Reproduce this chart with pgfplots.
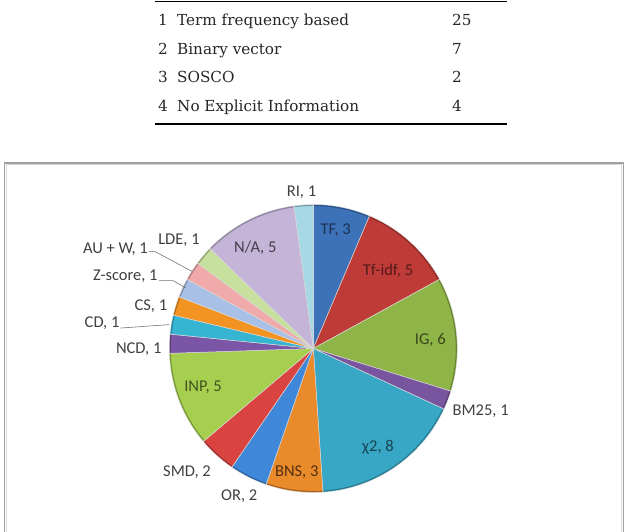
\documentclass[border=0pt]{standalone}
\usepackage{pgfplots}
\pgfplotsset{compat=1.18}
\usepackage{fontspec}
\setmainfont{DejaVu Serif}
\newfontfamily\carlito{Carlito}

\definecolor{cTF}{HTML}{3D72B8}
\definecolor{cTFIDF}{HTML}{BE3B38}
\definecolor{cIG}{HTML}{8FB448}
\definecolor{cBM}{HTML}{7A559F}
\definecolor{cCHI}{HTML}{38A7C5}
\definecolor{cBNS}{HTML}{E98A2B}
\definecolor{cOR}{HTML}{3E87D9}
\definecolor{cSMD}{HTML}{D94440}
\definecolor{cINP}{HTML}{A6CF4F}
\definecolor{cNCD}{HTML}{7B56A7}
\definecolor{cCD}{HTML}{36B5D3}
\definecolor{cCS}{HTML}{F39422}
\definecolor{cZ}{HTML}{A9C0E6}
\definecolor{cAUW}{HTML}{F0AAAA}
\definecolor{cLDE}{HTML}{C8E09D}
\definecolor{cNA}{HTML}{C4B5D8}
\definecolor{cRI}{HTML}{A6D8E6}
\definecolor{lbl}{HTML}{404040}
\definecolor{framec}{HTML}{A0A0A0}

\tikzset{lab/.style={font=\carlito\fontsize{16.5}{18}\selectfont, inner sep=0pt}}

% one wedge: start count, end count (cumulative counts out of 47), colour
\newcommand{\pieslice}[3]{%
  \addplot[fill=#3, draw=white!70!gray, line width=0.5pt, domain=#1:#2, samples=40, variable=\t]
    ({cos(90-360*\t/47)}, {sin(90-360*\t/47)}) -- (axis cs:0,0) -- cycle;
  \addplot[draw=#3!72!black, line width=1.1pt, domain=#1+0.04:#2-0.04, samples=40, variable=\t]
    ({0.993*cos(90-360*\t/47)}, {0.993*sin(90-360*\t/47)});
}

\begin{document}
\begin{tikzpicture}[x=1pt,y=1pt]
\useasboundingbox (0,0) rectangle (630,-532);

% ---- table ----
\draw[line width=0.8pt] (155,-1.7) -- (507,-1.7);
\draw[line width=1.3pt] (155,-124) -- (507,-124);
\begin{scope}[every node/.style={inner sep=0pt, font=\fontsize{15.2}{18}\selectfont, text=black!85}]
\node[anchor=base west] at (158,-26) {1};
\node[anchor=base west] at (177,-26) {Term frequency based};
\node[anchor=base west] at (452,-26) {25};
\node[anchor=base west] at (158,-54.5) {2};
\node[anchor=base west] at (177,-54.5) {Binary vector};
\node[anchor=base west] at (452,-54.5) {7};
\node[anchor=base west] at (158,-83) {3};
\node[anchor=base west] at (177,-83) {SOSCO};
\node[anchor=base west] at (452,-83) {2};
\node[anchor=base west] at (158,-111.5) {4};
\node[anchor=base west] at (177,-111.5) {No Explicit Information};
\node[anchor=base west] at (452,-111.5) {4};
\end{scope}

% ---- chart frame ----
\draw[framec, line width=1.3pt] (4.5,-545) -- (4.5,-163) -- (623.5,-163) -- (623.5,-545);
\draw[black!15, line width=0.8pt] (6.2,-545) -- (6.2,-164.7) -- (621.8,-164.7) -- (621.8,-545);

% ---- pie ----
\begin{axis}[
  at={(313.3pt,-348.5pt)}, anchor=center,
  width=288pt, height=288pt, scale only axis,
  xmin=-1, xmax=1, ymin=-1, ymax=1,
  hide axis, clip=false,
]
\pieslice{0}{3}{cTF}     % TF, 3
\pieslice{3}{8}{cTFIDF}  % Tf-idf, 5
\pieslice{8}{14}{cIG}    % IG, 6
\pieslice{14}{15}{cBM}   % BM25, 1
\pieslice{15}{23}{cCHI}  % chi2, 8
\pieslice{23}{26}{cBNS}  % BNS, 3
\pieslice{26}{28}{cOR}   % OR, 2
\pieslice{28}{30}{cSMD}  % SMD, 2
\pieslice{30}{35}{cINP}  % INP, 5
\pieslice{35}{36}{cNCD}  % NCD, 1
\pieslice{36}{37}{cCD}   % CD, 1
\pieslice{37}{38}{cCS}   % CS, 1
\pieslice{38}{39}{cZ}    % Z-score, 1
\pieslice{39}{40}{cAUW}  % AU + W, 1
\pieslice{40}{41}{cLDE}  % LDE, 1
\pieslice{41}{46}{cNA}   % N/A, 5
\pieslice{46}{47}{cRI}   % RI, 1

% leader lines
\addplot[black!55, line width=0.6pt] coordinates {(-1.338,0.142) (-1.0,0.166)};
\addplot[black!55, line width=0.6pt] coordinates {(-1.073,0.471) (-0.974,0.471) (-0.885,0.42)};
\addplot[black!55, line width=0.6pt] coordinates {(-1.142,0.674) (-1.101,0.674) (-0.841,0.535)};

% labels
\node[lab, text=lbl] at (axis cs:-0.082,1.083) {RI, 1};
\node[lab, text=cTF!45!black] at (axis cs:0.156,0.824) {TF, 3};
\node[lab, text=cTFIDF!45!black] at (axis cs:0.519,0.542) {Tf-idf, 5};
\node[lab, text=cIG!40!black] at (axis cs:0.8125,0.058) {IG, 6};
\node[lab, text=lbl] at (axis cs:1.162,-0.434) {BM25, 1};
\node[lab, text=cCHI!40!black] at (axis cs:0.449,-0.689) {χ2, 8};
\node[lab, text=cBNS!35!black] at (axis cs:-0.115,-0.858) {BNS, 3};
\node[lab, text=lbl] at (axis cs:-0.514,-1.024) {OR, 2};
\node[lab, text=lbl] at (axis cs:-0.877,-0.858) {SMD, 2};
\node[lab, text=cINP!40!black] at (axis cs:-0.766,-0.266) {INP, 5};
\node[lab, text=lbl] at (axis cs:-1.2125,-0.003) {NCD, 1};
\node[lab, text=lbl, anchor=east] at (axis cs:-1.345,0.173) {CD, 1};
\node[lab, text=lbl] at (axis cs:-1.128,0.297) {CS, 1};
\node[lab, text=lbl, anchor=east] at (axis cs:-1.08,0.501) {Z-score, 1};
\node[lab, text=lbl, anchor=east] at (axis cs:-1.148,0.691) {AU + W, 1};
\node[lab, text=lbl] at (axis cs:-0.933,0.755) {LDE, 1};
\node[lab, text=cNA!35!black] at (axis cs:-0.403,0.698) {N/A, 5};
\end{axis}
\end{tikzpicture}
\end{document}
